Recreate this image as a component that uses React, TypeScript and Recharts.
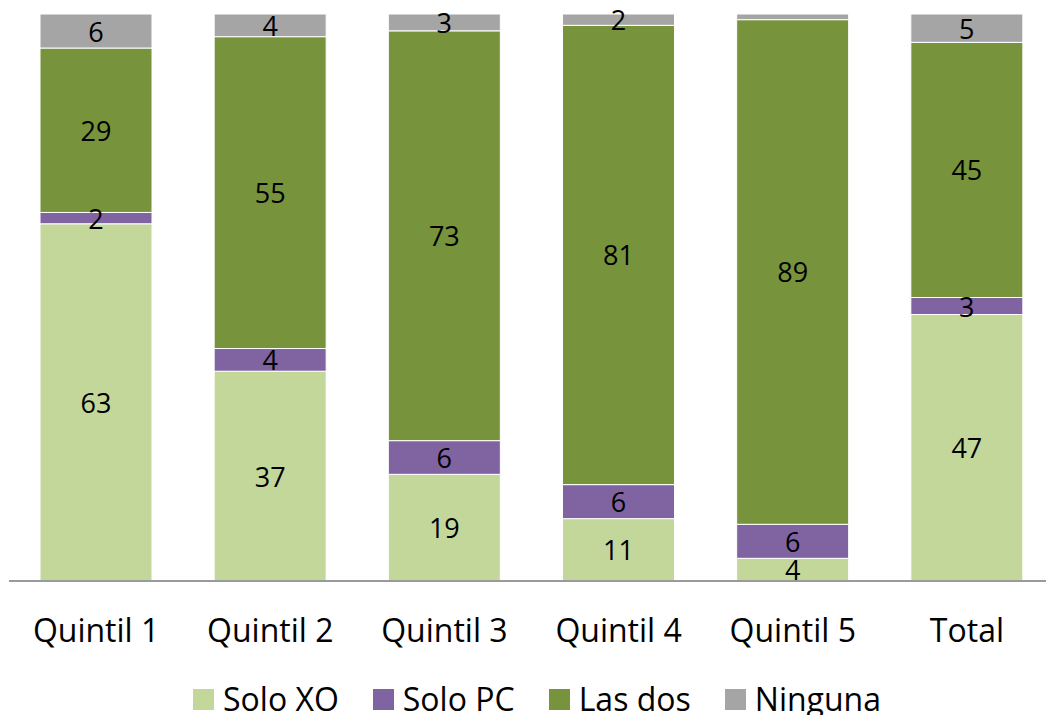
import React from "react";
import { BarChart, Bar, XAxis, YAxis, Legend, LabelList } from "recharts";

const categories = ["Quintil 1", "Quintil 2", "Quintil 3", "Quintil 4", "Quintil 5", "Total"];
const soloXO = [63, 37, 19, 11, 4, 47];
const soloPC = [2, 4, 6, 6, 6, 3];
const lasDos = [29, 55, 73, 81, 89, 45];
const ninguna = [6, 4, 3, 2, 1, 5];

const SERIES = [
  { key: "soloXO", name: "Solo XO", color: "#c4d79b" },
  { key: "soloPC", name: "Solo PC", color: "#8064a2" },
  { key: "lasDos", name: "Las dos", color: "#77933c" },
  { key: "ninguna", name: "Ninguna", color: "#a5a5a5" },
];

const data = categories.map((name, i) => ({
  name,
  soloXO: soloXO[i],
  soloPC: soloPC[i],
  lasDos: lasDos[i],
  ninguna: ninguna[i],
}));

const FONT = "'Open Sans', 'DejaVu Sans', sans-serif";

const SegmentLabel = (props: any) => {
  const { x, y, width, height, value } = props;
  if (value == null || value <= 1) return null;
  return (
    <text
      x={x + width / 2}
      y={y + height / 2}
      textAnchor="middle"
      dominantBaseline="central"
      fontFamily={FONT}
      fontSize={27}
      fill="#000"
    >
      {value}
    </text>
  );
};

const Tick = (props: any) => {
  const { x, y, payload } = props;
  return (
    <text x={x} y={y + 61} textAnchor="middle" fontFamily={FONT} fontSize={32} fill="#000">
      {payload.value}
    </text>
  );
};

// legend drawn in series order (recharts would reorder it)
const LegendContent = () => (
  <div
    style={{
      height: 60,
      paddingTop: 8,
      paddingLeft: 11,
      boxSizing: "border-box",
      display: "flex",
      justifyContent: "center",
      alignItems: "center",
      fontFamily: FONT,
      fontSize: 32,
      color: "#000",
    }}
  >
    {SERIES.map((s, i) => (
      <div key={s.key} style={{ display: "flex", alignItems: "center", marginLeft: i === 0 ? 0 : 34 }}>
        <span style={{ width: 21, height: 21, background: s.color, display: "inline-block", marginRight: 9 }} />
        <span style={{ lineHeight: "36px" }}>{s.name}</span>
      </div>
    ))}
  </div>
);

export default function App() {
  return (
    <div style={{ position: "absolute", left: 0, top: 0, width: 1046, height: 715, overflow: "hidden", background: "#fff" }}>
      <BarChart
        width={1054}
        height={725}
        data={data}
        stackOffset="expand"
        margin={{ top: 14, right: 0, bottom: 0, left: 9 }}
        barSize={112}
      >
        <XAxis
          dataKey="name"
          height={84}
          tickLine={false}
          tickSize={0}
          tickMargin={0}
          axisLine={{ stroke: "#9a9a9a", strokeWidth: 2 }}
          tick={<Tick />}
          interval={0}
        />
        <YAxis hide domain={[0, 1]} />
        <Legend verticalAlign="bottom" height={60} content={<LegendContent />} />
        {SERIES.map((s) => (
          <Bar
            key={s.key}
            dataKey={s.key}
            name={s.name}
            stackId="a"
            fill={s.color}
            stroke="#ffffff"
            strokeWidth={1}
            isAnimationActive={false}
          >
            <LabelList dataKey={s.key} content={<SegmentLabel />} />
          </Bar>
        ))}
      </BarChart>
    </div>
  );
}
